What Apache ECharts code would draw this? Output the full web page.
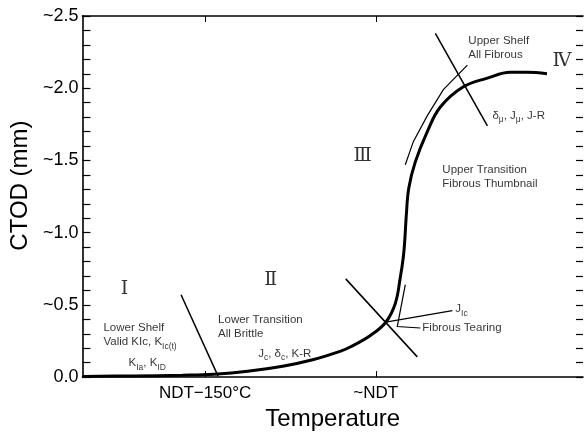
<!DOCTYPE html>
<html>
<head>
<meta charset="utf-8">
<script src="https://cdn.jsdelivr.net/npm/echarts@6/dist/echarts.min.js"></script>
<style>html,body{margin:0;padding:0;background:#fff}#c{width:584px;height:436px}</style>
</head>
<body>
<div id="c"></div>
<script>
// Temperature axis is schematic: 0..100 arbitrary units
const xTickValues = [24.5, 58.6];
const xTickLabels = ['NDT\u2212150\u00B0C', '~NDT'];
const yLabelValues = [0, 0.5, 1.0, 1.5, 2.0, 2.5];
const yTickLabels = ['0.0', '~0.5', '~1.0', '~1.5', '~2.0', '~2.5'];

// CTOD transition curve (x in schematic temperature units, y in mm)
const curveX = [0, 10, 20, 26.3, 33, 40, 46, 51.6, 53.6, 57.6, 60.6, 62.5, 63.5, 64.1, 64.4, 64.7, 65.2, 66.5, 68.9, 71.5, 76.1, 80.9, 85.5, 88.8, 92.8];
const curveY = [0.005, 0.008, 0.013, 0.02, 0.04, 0.075, 0.12, 0.18, 0.21, 0.29, 0.38, 0.51, 0.69, 0.83, 0.95, 1.12, 1.31, 1.49, 1.70, 1.87, 2.01, 2.07, 2.11, 2.11, 2.10];

// Region boundary lines
const boundaryI_II = [[19.7, 0.57], [27.1, 0.007]];
const boundaryII_III = [[52.6, 0.68], [66.9, 0.14]];
const boundaryIII_IV = [[70.5, 2.38], [80.9, 1.74]];

// Arrows
const arrowUpper = [[64.5, 1.47], [66.1, 1.63], [68.9, 1.81], [72.1, 1.99], [76.9, 2.16]];
const arrowTearing = [[67.5, 0.34], [62.9, 0.35], [64.5, 0.64]];
const arrowJIc = [[60.6, 0.38], [73.9, 0.46]];

// Region labels
const romanText = ['\u2160', '\u2161', '\u2162', '\u2163'];
const romanPos = [[8.4, 0.61], [37.6, 0.67], [56.0, 1.53], [95.8, 2.19]];

const noteText = [
  'Lower Shelf\nValid KIc, K{s|Ic(t)}',
  'K{s|Ia}, K{s|ID}',
  'Lower Transition\nAll Brittle',
  'J{s|c}, \u03B4{s|c}, K-R',
  'J{s|Ic}',
  'Fibrous Tearing',
  'Upper Shelf\nAll Fibrous',
  '\u03B4{s|\u03BC}, J{s|\u03BC}, J-R',
  'Upper Transition\nFibrous Thumbnail'
];
const notePos = [[4.2, 0.29], [9.2, 0.096], [27.1, 0.35], [35.1, 0.164], [74.5, 0.47], [67.9, 0.34], [77.1, 2.28], [81.9, 1.81], [71.9, 1.39]];

const SANS = '"Liberation Sans", Arial, Helvetica, sans-serif';
const chart = echarts.init(document.getElementById('c'), null, {renderer: 'canvas'});

const axisLine = {show: true, onZero: false, lineStyle: {color: '#000', width: 1.6}};
const tickLine = {color: '#000', width: 1.2};

const option = {
  animation: false,
  backgroundColor: '#fff',
  grid: {left: 81, right: 1, top: 16, bottom: 55},
  xAxis: [
    {
      type: 'value', min: 0, max: 100, position: 'bottom',
      name: 'Temperature', nameLocation: 'middle', nameGap: 29,
      nameTextStyle: {fontFamily: SANS, fontSize: 24, color: '#000'},
      axisLine: axisLine,
      axisTick: {show: true, inside: true, length: 6, customValues: xTickValues, lineStyle: {color: '#000', width: 1}},
      axisLabel: {show: true, customValues: xTickValues, margin: 8,
        formatter: v => xTickLabels[xTickValues.indexOf(v)],
        fontFamily: SANS, fontSize: 17, color: '#000'},
      splitLine: {show: false}
    },
    {
      type: 'value', min: 0, max: 100, position: 'top',
      axisLine: axisLine,
      axisTick: {show: true, inside: true, length: 6, customValues: xTickValues, lineStyle: {color: '#000', width: 1}},
      axisLabel: {show: false},
      splitLine: {show: false}
    }
  ],
  yAxis: [
    {
      type: 'value', min: 0, max: 2.5, interval: 0.1, position: 'left',
      name: 'CTOD (mm)', nameLocation: 'middle', nameGap: 50, nameRotate: 90,
      nameTextStyle: {fontFamily: SANS, fontSize: 24, color: '#000', padding: [0, 0, 0, 22]},
      axisLine: axisLine,
      axisTick: {show: true, inside: true, length: 8, lineStyle: tickLine},
      axisLabel: {show: true, margin: 4, customValues: yLabelValues,
        formatter: v => yTickLabels[Math.round(v / 0.5)],
        fontFamily: SANS, fontSize: 18, color: '#000'},
      splitLine: {show: false}
    },
    {
      type: 'value', min: 0, max: 2.5, interval: 0.1, position: 'right',
      axisLine: {show: false, onZero: false},
      axisTick: {show: true, inside: true, length: 7, lineStyle: tickLine},
      axisLabel: {show: false},
      splitLine: {show: false}
    }
  ],
  series: [
    {
      type: 'line', xAxisIndex: 0, yAxisIndex: 0,
      data: curveX.map((x, i) => [x, curveY[i]]),
      smooth: 0.4, showSymbol: false, symbol: 'none',
      lineStyle: {color: '#000', width: 3}, z: 5
    },
    {
      type: 'lines', coordinateSystem: 'cartesian2d', polyline: true,
      symbol: ['none', 'none'],
      lineStyle: {color: '#000', width: 1.5, curveness: 0, opacity: 1},
      data: [{coords: boundaryI_II}, {coords: boundaryII_III}, {coords: boundaryIII_IV}],
      z: 4
    },
    {
      type: 'lines', coordinateSystem: 'cartesian2d', polyline: true,
      symbol: ['none', 'arrow'], symbolSize: [6, 10],
      lineStyle: {color: '#000', width: 1.2, curveness: 0, opacity: 1},
      data: [{coords: arrowUpper}, {coords: arrowTearing}, {coords: arrowJIc}],
      z: 4
    },
    {
      type: 'scatter', symbolSize: 0, silent: true,
      itemStyle: {color: 'rgba(0,0,0,0)'},
      label: {show: true, position: 'inside', formatter: p => romanText[p.dataIndex],
        fontFamily: '"DejaVu Serif", "Liberation Serif", serif', fontSize: 19, color: '#000'},
      data: romanPos
    },
    {
      type: 'scatter', symbolSize: 0, silent: true,
      itemStyle: {color: 'rgba(0,0,0,0)'},
      label: {show: true, position: 'right', distance: 0, align: 'left',
        formatter: p => noteText[p.dataIndex],
        fontFamily: SANS, fontSize: 11.5, color: '#000', lineHeight: 14,
        rich: {s: {fontFamily: SANS, fontSize: 8.5, color: '#000', padding: [8, 0, 0, 0], lineHeight: 14}}},
      data: notePos
    }
  ]
};
chart.setOption(option);
</script>
</body>
</html>
